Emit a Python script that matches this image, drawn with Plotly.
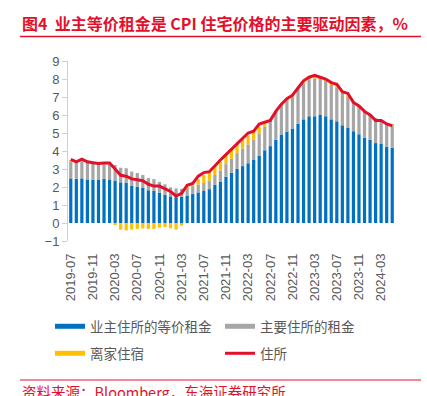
import plotly.graph_objects as go

months = [
    "2019-07", "2019-08", "2019-09", "2019-10", "2019-11", "2019-12",
    "2020-01", "2020-02", "2020-03", "2020-04", "2020-05", "2020-06",
    "2020-07", "2020-08", "2020-09", "2020-10", "2020-11", "2020-12",
    "2021-01", "2021-02", "2021-03", "2021-04", "2021-05", "2021-06",
    "2021-07", "2021-08", "2021-09", "2021-10", "2021-11", "2021-12",
    "2022-01", "2022-02", "2022-03", "2022-04", "2022-05", "2022-06",
    "2022-07", "2022-08", "2022-09", "2022-10", "2022-11", "2022-12",
    "2023-01", "2023-02", "2023-03", "2023-04", "2023-05", "2023-06",
    "2023-07", "2023-08", "2023-09", "2023-10", "2023-11", "2023-12",
    "2024-01", "2024-02", "2024-03", "2024-04", "2024-05",
]

# 业主住所的等价租金 (contribution, pct pts)
oer = [2.48, 2.46, 2.48, 2.42, 2.40, 2.42, 2.45, 2.42, 2.36, 2.26, 2.24, 2.08,
       2.02, 1.95, 1.82, 1.78, 1.68, 1.57, 1.48, 1.44, 1.47, 1.50, 1.63, 1.70,
       1.78, 1.88, 2.12, 2.28, 2.57, 2.79, 3.01, 3.16, 3.32, 3.53, 3.75, 4.04,
       4.27, 4.62, 4.92, 5.08, 5.25, 5.52, 5.76, 5.93, 5.93, 6.00, 5.93, 5.76,
       5.65, 5.43, 5.28, 5.10, 4.93, 4.74, 4.62, 4.44, 4.39, 4.24, 4.18]

# 主要住所的租金
rent = [0.91, 0.90, 0.93, 0.92, 0.90, 0.88, 0.88, 0.90, 0.86, 0.81, 0.80, 0.78,
        0.76, 0.72, 0.68, 0.66, 0.61, 0.58, 0.50, 0.48, 0.43, 0.42, 0.42, 0.44,
        0.44, 0.48, 0.55, 0.64, 0.70, 0.78, 0.87, 0.97, 1.05, 1.10, 1.20, 1.32,
        1.43, 1.53, 1.63, 1.71, 1.80, 1.90, 2.00, 2.06, 2.08, 2.05, 2.01, 1.95,
        1.90, 1.80, 1.75, 1.67, 1.62, 1.50, 1.44, 1.39, 1.33, 1.30, 1.25]

# 离家住宿
lodging = [0.10, 0.03, 0.08, 0.04, 0.04, 0.00, 0.00, 0.02, -0.10, -0.37, -0.41, -0.37,
           -0.33, -0.30, -0.33, -0.33, -0.26, -0.22, -0.30, -0.37, -0.15, 0.05, 0.12, 0.30,
           0.45, 0.50, 0.50, 0.46, 0.48, 0.50, 0.50, 0.50, 0.50, 0.42, 0.40, 0.17,
           0.02, 0.04, 0.03, 0.10, 0.05, 0.05, 0.10, 0.10, 0.15, 0.08, 0.05, 0.06,
           0.10, 0.06, 0.10, 0.00, 0.00, 0.00, 0.00, 0.00, 0.00, 0.00, 0.03]

# 住所 (YoY, %)
shelter = [3.54, 3.40, 3.55, 3.40, 3.35, 3.30, 3.33, 3.33, 3.00, 2.65, 2.60, 2.45,
           2.40, 2.35, 2.15, 2.05, 2.05, 1.90, 1.75, 1.50, 1.65, 2.10, 2.20, 2.60,
           2.80, 2.85, 3.20, 3.50, 3.80, 4.10, 4.40, 4.70, 5.00, 5.10, 5.50, 5.60,
           5.70, 6.20, 6.60, 6.90, 7.10, 7.50, 7.90, 8.10, 8.20, 8.10, 8.00, 7.80,
           7.70, 7.30, 7.20, 6.70, 6.50, 6.20, 6.00, 5.70, 5.70, 5.50, 5.40]

tick_labels = months[::4]

BLUE = "#0070C0"
GRAY = "#A6A6A6"
YELLOW = "#FFC000"
RED = "#E3102B"
TXT = "#595959"
AXC = "#D0D0D0"
FONT = "Liberation Sans, Arial, Noto Sans CJK SC, sans-serif"
CJK = "Noto Sans CJK SC, sans-serif"

W, H = 427, 396
L, R, T, B = 68, 32, 61, 155
PW = W - L - R
PH = H - T - B


def px_x(px):
    return (px - L) / PW


def px_y(py):
    return (H - B - py) / PH


fig = go.Figure()
names = ["业主住所的等价租金", "主要住所的租金", "离家住宿"]
for vals, col, nm in zip([oer, rent, lodging], [BLUE, GRAY, YELLOW], names):
    fig.add_trace(go.Bar(x=months, y=vals, name=nm, marker_color=col,
                         marker_line_width=0, showlegend=False, legendgroup=nm))

fig.add_trace(go.Scatter(x=months, y=shelter, name="住所", mode="lines",
                         line=dict(color=RED, width=3), showlegend=False,
                         legendgroup="住所"))

# legend entries (wide swatches like the original)
leg_items = [(names[0], BLUE, 5, "legend"), (names[1], GRAY, 5, "legend"),
             (names[2], YELLOW, 5, "legend2"), ("住所", RED, 3, "legend2")]
for nm, col, wd, lg in leg_items:
    fig.add_trace(go.Scatter(x=[None], y=[None], mode="lines", name=nm,
                             line=dict(color=col, width=wd), legendgroup=nm,
                             legend=lg, showlegend=True))

leg_common = dict(orientation="h", xref="paper", yref="paper",
                  x=px_x(50), xanchor="left", yanchor="top",
                  entrywidth=125, entrywidthmode="pixels", itemwidth=30,
                  font=dict(family=CJK, size=13.5, color=TXT),
                  bgcolor="rgba(0,0,0,0)", borderwidth=0)

fig.update_layout(
    width=W, height=H,
    margin=dict(l=L, r=R, t=T, b=B),
    paper_bgcolor="white", plot_bgcolor="white",
    barmode="relative", bargap=0.42,
    font=dict(family=FONT, size=13, color=TXT),
    xaxis=dict(type="category", range=[-0.5, len(months) - 0.5],
               tickmode="array", tickvals=tick_labels, ticktext=tick_labels,
               tickangle=-90, showline=False, ticks="", showgrid=False,
               zeroline=False, tickfont=dict(size=13, color=TXT),
               ticklabelstandoff=9),
    xaxis2=dict(overlaying="x", anchor="free", position=0.1, type="linear",
                range=[-0.5, len(months) - 0.5],
                tickvals=[i + 3.5 for i in range(0, len(months) - 4, 4)],
                showticklabels=False, ticks="outside", ticklen=4,
                tickcolor=AXC, showline=True, linecolor=AXC, linewidth=1,
                showgrid=False, zeroline=False),
    yaxis=dict(range=[-1, 9], dtick=1, showgrid=False, zeroline=False,
               showline=True, linecolor=AXC, linewidth=1, ticks="outside",
               ticklen=5, tickcolor=AXC, tickfont=dict(size=13, color=TXT)),
    legend=dict(leg_common, y=px_y(311)),
    legend2=dict(leg_common, y=px_y(338)),
)

fig.add_annotation(text="<b>图4  业主等价租金是 CPI 住宅价格的主要驱动因素，%</b>",
                   xref="paper", yref="paper", x=px_x(20), y=px_y(23),
                   xanchor="left", yanchor="middle", showarrow=False,
                   font=dict(family=CJK, size=16, color=RED))
fig.add_annotation(text="资料来源：Bloomberg，东海证券研究所",
                   xref="paper", yref="paper", x=px_x(20), y=px_y(391),
                   xanchor="left", yanchor="middle", showarrow=False,
                   font=dict(family=CJK, size=14.5, color=RED))
fig.add_shape(type="line", xref="paper", yref="paper",
              x0=px_x(20), x1=px_x(421), y0=px_y(36.5), y1=px_y(36.5),
              line=dict(color=RED, width=1.5))
fig.add_shape(type="line", xref="paper", yref="paper",
              x0=px_x(20), x1=px_x(421), y0=px_y(380), y1=px_y(380),
              line=dict(color=RED, width=1.2))

fig.write_html("out.html",
               config={"displayModeBar": False},
               post_script="document.body.style.margin='0';"
                           "document.body.style.overflow='hidden';")
